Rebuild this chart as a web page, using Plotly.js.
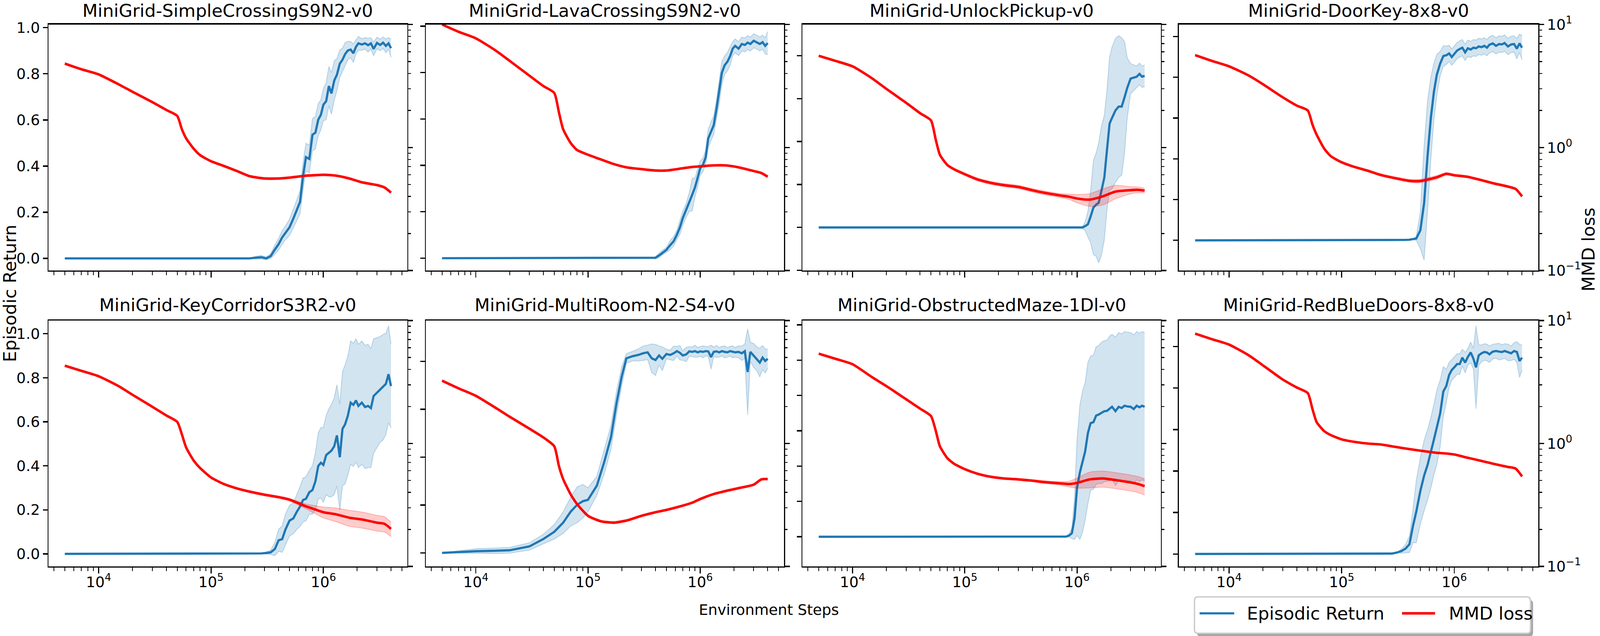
<!DOCTYPE html>
<html><head><meta charset="utf-8">
<script src="https://cdn.plot.ly/plotly-3.0.1.min.js"></script>
<style>html,body{margin:0;padding:0;background:#fff;overflow:hidden;}</style>
</head><body><div id="chart"></div>
<script>
// ---------------- DATA ----------------
const titles = ["MiniGrid-SimpleCrossingS9N2-v0","MiniGrid-LavaCrossingS9N2-v0","MiniGrid-UnlockPickup-v0","MiniGrid-DoorKey-8x8-v0",
                "MiniGrid-KeyCorridorS3R2-v0","MiniGrid-MultiRoom-N2-S4-v0","MiniGrid-ObstructedMaze-1Dl-v0","MiniGrid-RedBlueDoors-8x8-v0"];

const steps = [5000,7000,10000,15000,20000,30000,40000,50000,60000,70000,80000,90000,100000,120000,140000,160000,180000,200000,220000,250000,
  280000,310000,340000,370000,400000,430000,460000,500000,540000,580000,620000,660000,700000,750000,800000,850000,900000,950000,1000000,1060000,
  1120000,1180000,1250000,1320000,1400000,1480000,1560000,1650000,1750000,1850000,1950000,2050000,2200000,2350000,2500000,2650000,2800000,3000000,3200000,3400000,
  3600000,3800000,4000000];

const lossSteps = [5000,7000,10000,15000,20000,30000,40000,50000,55000,60000,70000,80000,100000,130000,170000,220000,300000,400000,500000,700000,
  850000,1000000,1300000,1700000,2200000,3000000,3500000,4000000];

// Episodic return (mean and std) per environment, sampled at `steps`
const return1 = [0,0,0,0,0,0,0,0,0,0, 0,0,0,0,0,0,0,0,0,0.003,
  0.005,0.0,0.01,0.038,0.062,0.091,0.111,0.135,0.172,0.208,
  0.245,0.358,0.439,0.431,0.536,0.545,0.601,0.622,0.666,0.682,
  0.747,0.715,0.771,0.796,0.844,0.861,0.885,0.901,0.905,0.889,
  0.917,0.932,0.927,0.932,0.924,0.932,0.908,0.934,0.925,0.935,
  0.921,0.932,0.911];
const returnStd1 = [0,0,0,0,0,0,0,0,0,0, 0,0,0,0,0,0,0,0,0,0.006,
  0.008,0.006,0.01,0.02,0.025,0.03,0.03,0.035,0.04,0.045,
  0.05,0.06,0.06,0.06,0.07,0.07,0.07,0.065,0.07,0.08,
  0.085,0.09,0.085,0.07,0.06,0.05,0.05,0.04,0.035,0.04,
  0.03,0.03,0.025,0.025,0.03,0.025,0.03,0.025,0.025,0.025,
  0.03,0.025,0.04];

const return2 = [0,0,0,0,0,0,0,0,0,0, 0,0,0,0,0,0,0,0,0,0,
  0,0,0,0,0.002,0.012,0.024,0.036,0.056,0.073,
  0.101,0.133,0.173,0.206,0.242,0.274,0.306,0.347,0.387,0.403,
  0.435,0.516,0.548,0.573,0.645,0.718,0.798,0.831,0.847,0.871,
  0.903,0.915,0.903,0.923,0.919,0.929,0.923,0.937,0.931,0.923,
  0.931,0.915,0.927];
const returnStd2 = [0,0,0,0,0,0,0,0,0,0, 0,0,0,0,0,0,0,0,0,0,
  0,0,0,0,0.005,0.01,0.01,0.01,0.02,0.02,
  0.02,0.03,0.03,0.03,0.04,0.07,0.04,0.04,0.03,0.03,
  0.03,0.04,0.04,0.04,0.04,0.05,0.05,0.04,0.04,0.04,
  0.03,0.03,0.03,0.03,0.03,0.03,0.03,0.03,0.03,0.03,
  0.03,0.035,0.05];

const return3 = [0,0,0,0,0,0,0,0,0,0, 0,0,0,0,0,0,0,0,0,0,
  0,0,0,0,0,0,0,0,0,0, 0,0,0,0,0,0,0,0,0,0,
  0,0.006,0.015,0.05,0.093,0.106,0.115,0.171,0.232,0.363,
  0.484,0.51,0.545,0.563,0.563,0.606,0.65,0.693,0.697,0.702,
  0.715,0.702,0.706];
const returnStd3 = [0,0,0,0,0,0,0,0,0,0, 0,0,0,0,0,0,0,0,0,0,
  0,0,0,0,0,0,0,0,0,0, 0,0,0,0,0,0,0,0,0,0,
  0.005,0.02,0.06,0.12,0.22,0.24,0.28,0.3,0.29,0.28,
  0.31,0.33,0.335,0.33,0.32,0.26,0.14,0.07,0.06,0.05,
  0.05,0.05,0.05];

const return4 = [0,0,0,0,0,0,0,0,0,0, 0,0,0,0,0,0,0,0,0,0,
  0,0,0,0.002,0.003,0.005,0.009,0.049,0.183,0.417,
  0.601,0.729,0.812,0.867,0.904,0.908,0.917,0.899,0.913,0.931,
  0.939,0.945,0.922,0.942,0.936,0.945,0.942,0.951,0.948,0.954,
  0.945,0.959,0.966,0.954,0.963,0.961,0.968,0.951,0.961,0.963,
  0.940,0.966,0.945];
const returnStd4 = [0,0,0,0,0,0,0,0,0,0, 0,0,0,0,0,0,0,0,0,0,
  0,0,0,0,0,0,0.01,0.09,0.28,0.27,
  0.2,0.14,0.1,0.06,0.05,0.045,0.04,0.04,0.04,0.04,
  0.04,0.04,0.04,0.04,0.04,0.04,0.04,0.04,0.04,0.04,
  0.04,0.04,0.04,0.04,0.04,0.04,0.04,0.04,0.04,0.04,
  0.05,0.045,0.06];

const return5 = [0,0,0,0,0,0,0,0,0,0, 0,0,0,0,0,0,0,0,0,0,
  0.002,0.004,0.007,0.022,0.062,0.067,0.111,0.151,0.161,0.191,
  0.215,0.245,0.250,0.280,0.290,0.330,0.399,0.414,0.404,0.449,
  0.459,0.469,0.489,0.538,0.439,0.568,0.588,0.627,0.687,0.677,
  0.697,0.672,0.687,0.667,0.672,0.662,0.717,0.732,0.747,0.757,
  0.772,0.816,0.762];
const returnStd5 = [0,0,0,0,0,0,0,0,0,0, 0,0,0,0,0,0,0,0,0,0,
  0,0.005,0.01,0.03,0.05,0.06,0.07,0.07,0.07,0.08,
  0.09,0.1,0.1,0.1,0.11,0.13,0.15,0.16,0.17,0.18,
  0.2,0.21,0.22,0.23,0.24,0.26,0.27,0.27,0.28,0.28,
  0.28,0.28,0.28,0.28,0.28,0.27,0.26,0.25,0.24,0.24,
  0.23,0.22,0.19];

const return6 = [0,0.004,0.007,0.009,0.011,0.027,0.058,0.088,0.126,0.172,
  0.201,0.216,0.222,0.281,0.382,0.482,0.628,0.738,0.813,0.822,
  0.827,0.834,0.838,0.813,0.806,0.825,0.811,0.831,0.827,0.834,
  0.843,0.836,0.825,0.829,0.842,0.840,0.843,0.838,0.842,0.840,
  0.843,0.842,0.818,0.840,0.842,0.838,0.843,0.840,0.838,0.843,
  0.840,0.838,0.840,0.834,0.843,0.756,0.840,0.825,0.811,0.795,
  0.816,0.802,0.811];
const returnStd6 = [0,0.005,0.01,0.012,0.012,0.015,0.02,0.03,0.045,0.06,
  0.075,0.07,0.05,0.04,0.05,0.05,0.05,0.04,0.02,0.02,
  0.025,0.03,0.03,0.06,0.065,0.04,0.05,0.02,0.02,0.03,
  0.02,0.03,0.02,0.03,0.02,0.02,0.025,0.02,0.02,0.025,
  0.02,0.02,0.05,0.02,0.025,0.02,0.02,0.025,0.02,0.02,
  0.025,0.02,0.025,0.03,0.03,0.18,0.04,0.05,0.05,0.06,
  0.05,0.05,0.04];

const return7 = [0,0,0,0,0,0,0,0,0,0, 0,0,0,0,0,0,0,0,0,0,
  0,0,0,0,0,0,0,0,0,0, 0,0,0,0,0.001,0.007,0.02,0.104,0.277,0.364,
  0.426,0.482,0.587,0.643,0.649,0.686,0.692,0.701,0.711,0.713,
  0.726,0.736,0.711,0.736,0.729,0.742,0.738,0.736,0.723,0.742,
  0.733,0.742,0.736];
const returnStd7 = [0,0,0,0,0,0,0,0,0,0, 0,0,0,0,0,0,0,0,0,0,
  0,0,0,0,0,0,0,0,0,0, 0,0,0,0,0,0.01,0.03,0.12,0.27,0.38,
  0.4,0.39,0.4,0.38,0.38,0.39,0.39,0.4,0.4,0.4,
  0.41,0.41,0.42,0.42,0.42,0.42,0.42,0.42,0.42,0.42,
  0.42,0.42,0.42];

const return8 = [0,0,0,0,0,0,0,0,0,0, 0,0,0,0,0,0,0,0,0,0,
  0.002,0.007,0.014,0.026,0.047,0.135,0.204,0.304,0.378,0.430,
  0.488,0.552,0.610,0.678,0.784,0.810,0.863,0.887,0.90,0.916,
  0.916,0.947,0.923,0.950,0.972,0.942,0.90,0.958,0.968,0.974,
  0.972,0.963,0.976,0.979,0.976,0.974,0.979,0.972,0.968,0.979,
  0.974,0.931,0.947];
const returnStd8 = [0,0,0,0,0,0,0,0,0,0, 0,0,0,0,0,0,0,0,0,0,
  0,0,0.01,0.02,0.04,0.08,0.15,0.16,0.17,0.17,
  0.17,0.17,0.18,0.16,0.12,0.08,0.06,0.05,0.05,0.05,
  0.05,0.04,0.05,0.04,0.05,0.05,0.2,0.05,0.04,0.04,
  0.04,0.04,0.035,0.035,0.04,0.035,0.035,0.04,0.035,0.04,
  0.05,0.08,0.06];

// MMD loss (mean and std) per environment, sampled at `lossSteps`
const loss1 = [4.81,4.33,3.93,3.27,2.84,2.34,2.02,1.81,1.41,1.19,0.98,0.867,0.774,0.708,0.644,0.585,0.560,0.560,0.569,0.590,0.596,0.600,0.590,0.560,0.521,0.495,0.473,0.430];
const lossStd1 = [0.09,0.08,0.07,0.06,0.05,0.04,0.035,0.03,0.025,0.02,0.017,0.015,0.014,0.013,0.012,0.011,0.011,0.011,0.011,0.011,0.011,0.011,0.011,0.01,0.01,0.009,0.009,0.009];
const loss2 = [10.0,8.73,7.72,6.15,5.07,3.84,3.16,2.78,1.94,1.41,1.09,0.953,0.873,0.80,0.733,0.69,0.667,0.65,0.65,0.678,0.695,0.703,0.715,0.715,0.69,0.644,0.621,0.579];
const lossStd2 = [0.15,0.13,0.11,0.09,0.07,0.05,0.045,0.04,0.03,0.02,0.016,0.014,0.013,0.012,0.011,0.011,0.01,0.01,0.01,0.012,0.012,0.012,0.012,0.012,0.011,0.01,0.01,0.01];
const loss3 = [5.57,5.07,4.57,3.64,3.00,2.31,1.90,1.66,1.17,0.873,0.72,0.667,0.607,0.55,0.516,0.495,0.478,0.449,0.430,0.408,0.398,0.385,0.377,0.401,0.438,0.450,0.453,0.446];
const lossStd3 = [0.1,0.09,0.08,0.06,0.05,0.04,0.035,0.03,0.025,0.02,0.016,0.015,0.015,0.015,0.015,0.015,0.015,0.015,0.015,0.015,0.02,0.03,0.045,0.06,0.055,0.03,0.025,0.02];
const loss4 = [5.64,5.07,4.57,3.84,3.27,2.56,2.19,2.0,1.54,1.27,0.98,0.851,0.758,0.695,0.648,0.600,0.563,0.536,0.534,0.573,0.611,0.595,0.579,0.546,0.513,0.481,0.461,0.401];
const lossStd4 = [0.1,0.09,0.08,0.06,0.05,0.04,0.035,0.03,0.025,0.02,0.016,0.015,0.013,0.012,0.012,0.012,0.012,0.015,0.018,0.02,0.015,0.012,0.011,0.011,0.01,0.01,0.01,0.01];
const loss5 = [4.29,3.90,3.52,2.93,2.49,1.99,1.69,1.50,1.19,0.931,0.728,0.631,0.529,0.468,0.431,0.406,0.383,0.366,0.349,0.308,0.290,0.276,0.265,0.249,0.241,0.227,0.222,0.202];
const lossStd5 = [0.08,0.07,0.06,0.05,0.04,0.03,0.025,0.022,0.018,0.014,0.012,0.011,0.009,0.008,0.008,0.008,0.008,0.008,0.009,0.014,0.022,0.028,0.034,0.037,0.036,0.033,0.032,0.027];
const loss6 = [3.24,2.81,2.44,1.95,1.65,1.32,1.12,0.95,0.658,0.514,0.386,0.321,0.258,0.233,0.227,0.236,0.258,0.276,0.288,0.312,0.330,0.353,0.386,0.411,0.433,0.462,0.51,0.514];
const lossStd6 = [0.06,0.05,0.045,0.035,0.03,0.025,0.02,0.018,0.012,0.009,0.007,0.006,0.005,0.005,0.005,0.005,0.005,0.005,0.006,0.006,0.006,0.007,0.007,0.008,0.008,0.008,0.009,0.009];
const loss7 = [5.37,4.89,4.41,3.45,2.93,2.29,1.92,1.67,1.28,0.95,0.759,0.685,0.618,0.567,0.536,0.52,0.51,0.498,0.486,0.474,0.468,0.478,0.51,0.519,0.504,0.482,0.468,0.449];
const lossStd7 = [0.09,0.08,0.07,0.055,0.045,0.035,0.03,0.025,0.02,0.016,0.013,0.012,0.011,0.01,0.01,0.01,0.01,0.01,0.012,0.015,0.025,0.045,0.075,0.078,0.075,0.072,0.07,0.068];
const loss8 = [7.82,7.06,6.37,5.20,4.32,3.31,2.85,2.57,1.91,1.49,1.26,1.17,1.08,1.03,0.998,0.982,0.938,0.90,0.874,0.839,0.829,0.813,0.767,0.725,0.685,0.644,0.626,0.54];
const lossStd8 = [0.12,0.11,0.1,0.08,0.065,0.05,0.043,0.038,0.03,0.022,0.019,0.017,0.016,0.015,0.015,0.014,0.014,0.013,0.013,0.013,0.013,0.012,0.012,0.011,0.01,0.01,0.01,0.01];

// tick values / labels
const stepTicks = [1e4, 1e5, 1e6];
const stepTickLabels = ["10<sup>4</sup>","10<sup>5</sup>","10<sup>6</sup>"];
const stepMinorTicks = [4000,5000,6000,7000,8000,9000,20000,30000,40000,50000,60000,70000,80000,90000,
  200000,300000,400000,500000,600000,700000,800000,900000,2000000,3000000,4000000,5000000,6000000,7000000,8000000,9000000];
const returnTicks = [-0.2,0,0.2,0.4,0.6,0.8,1.0,1.2];
const returnTickLabels = ["\u22120.2","0.0","0.2","0.4","0.6","0.8","1.0","1.2"];
const lossTicks = [0.1, 1, 10];
const lossTickLabels = ["10<sup>\u22121</sup>","10<sup>0</sup>","10<sup>1</sup>"];
const lossMinorTicks = [0.2,0.3,0.4,0.5,0.6,0.7,0.8,0.9,2,3,4,5,6,7,8,9];
const legendLabels = ["Episodic Return","MMD loss"];

const returns = [return1,return2,return3,return4,return5,return6,return7,return8];
const returnStds = [returnStd1,returnStd2,returnStd3,returnStd4,returnStd5,returnStd6,returnStd7,returnStd8];
const losses = [loss1,loss2,loss3,loss4,loss5,loss6,loss7,loss8];
const lossStds = [lossStd1,lossStd2,lossStd3,lossStd4,lossStd5,lossStd6,lossStd7,lossStd8];

[returns,returnStds].forEach(g=>g.forEach((a,i)=>{ if(a.length!==steps.length) throw new Error('return array '+i+' length '+a.length); }));
[losses,lossStds].forEach(g=>g.forEach((a,i)=>{ if(a.length!==lossSteps.length) throw new Error('loss array '+i+' length '+a.length); }));

// ---------------- LAYOUT ----------------
const W = 4995, H = 1627;
// the design is in 4995x1627 design pixels; fill the actual viewport
const VW = window.innerWidth || W, VH = window.innerHeight || H;
const SX = VW / W, SY = VH / H, SK = Math.sqrt(SX * SY);
const zx = v => v * SX, zy = v => v * SY, zk = v => v * SK;
const chartDiv = document.getElementById("chart");
chartDiv.style.width = VW + "px";
chartDiv.style.height = VH + "px";

const FONT = "DejaVu Sans";
const BLUE = "#1f77b4", RED = "#ff0000";
const colPx = [[151.7,1271.4],[1329.5,2447.3],[2505.4,3624.0],[3680.4,4802.4]];
const rowPx = [[62.7,692.0],[819.9,1449.0]];
const returnRanges = [[-0.0525,1.0137],[-0.053,1.007],[-0.2005,0.945],[-0.148,1.0587],
                      [-0.057,1.06],[-0.0565,0.971],[-0.168,1.2245],[-0.06,1.126]];
const xRange = [3.5547, 6.7466];
const px2x = p => p / W, px2y = p => 1 - p / H;

const tickFont = {family: FONT, size: zk(41.7), color: "#000"};

const data = [];
const layout = {
  width: VW, height: VH, margin: {l:0, r:0, t:0, b:0, pad:0},
  paper_bgcolor: "#fff", plot_bgcolor: "rgba(0,0,0,0)", showlegend: false,
  font: {family: FONT, color: "#000"}, annotations: [], shapes: []
};

for (let i = 0; i < 8; i++) {
  const r = Math.floor(i / 4), c = i % 4;
  const xn = "x" + (i + 1), yr = "y" + (2 * i + 1), yl = "y" + (2 * i + 2);
  const xk = i === 0 ? "xaxis" : "xaxis" + (i + 1);
  const yrk = (2 * i + 1) === 1 ? "yaxis" : "yaxis" + (2 * i + 1);
  const ylk = "yaxis" + (2 * i + 2);

  layout[xk] = {
    type: "log", range: xRange, domain: [px2x(colPx[c][0]), px2x(colPx[c][1])], anchor: yr,
    showline: true, linecolor: "#000", linewidth: zy(3.3), mirror: true,
    ticks: "outside", ticklen: zy(14.6), tickwidth: zx(3.3), tickcolor: "#000",
    tickmode: "array", tickvals: stepTicks, ticktext: stepTickLabels, showticklabels: r === 1,
    ticklabelstandoff: Math.round(zy(-10)),
    tickfont: tickFont, showgrid: false, zeroline: false,
    minor: {tickmode: "array", tickvals: stepMinorTicks, ticks: "outside", ticklen: zy(8.3), tickwidth: zx(2.5), tickcolor: "#000", showgrid: false}
  };
  layout[yrk] = {
    range: returnRanges[i], domain: [px2y(rowPx[r][1]), px2y(rowPx[r][0])], anchor: xn,
    showline: true, linecolor: "#000", linewidth: zx(3.3), mirror: true,
    ticks: "outside", ticklen: zx(14.6), tickwidth: zy(3.3), tickcolor: "#000",
    tickmode: "array", tickvals: returnTicks, ticktext: returnTickLabels, showticklabels: c === 0,
    tickfont: tickFont, showgrid: false, zeroline: false
  };
  layout[ylk] = {
    type: "log", range: [-1, 1], overlaying: yr, side: "right", anchor: xn,
    showline: true, linecolor: "#000", linewidth: zx(3.3),
    ticks: "outside", ticklen: zx(14.6), tickwidth: zy(3.3), tickcolor: "#000",
    tickmode: "array", tickvals: lossTicks, ticktext: lossTickLabels, showticklabels: c === 3,
    tickfont: tickFont, showgrid: false, zeroline: false,
    minor: {tickmode: "array", tickvals: lossMinorTicks, ticks: "outside", ticklen: zx(8.3), tickwidth: zy(2.5), tickcolor: "#000", showgrid: false}
  };

  const m = returns[i], s = returnStds[i];
  data.push({x: steps, y: m.map((v, k) => v - s[k]), xaxis: xn, yaxis: yr, mode: "lines",
    line: {color: "rgba(31,119,180,0.25)", width: zk(2.5)}, hoverinfo: "skip"});
  data.push({x: steps, y: m.map((v, k) => v + s[k]), xaxis: xn, yaxis: yr, mode: "lines", fill: "tonexty",
    fillcolor: "rgba(31,119,180,0.2)", line: {color: "rgba(31,119,180,0.25)", width: zk(2.5)}, hoverinfo: "skip"});
  data.push({x: steps, y: m, xaxis: xn, yaxis: yr, mode: "lines", line: {color: BLUE, width: zk(6.25)}, name: legendLabels[0]});

  const lm = losses[i], ls = lossStds[i];
  data.push({x: lossSteps, y: lm.map((v, k) => v - ls[k]), xaxis: xn, yaxis: yl, mode: "lines",
    line: {color: "rgba(255,0,0,0.22)", width: zk(2.5), shape: "spline", smoothing: 0.6}, hoverinfo: "skip"});
  data.push({x: lossSteps, y: lm.map((v, k) => v + ls[k]), xaxis: xn, yaxis: yl, mode: "lines", fill: "tonexty",
    fillcolor: "rgba(255,0,0,0.2)", line: {color: "rgba(255,0,0,0.22)", width: zk(2.5), shape: "spline", smoothing: 0.6}, hoverinfo: "skip"});
  data.push({x: lossSteps, y: lm, xaxis: xn, yaxis: yl, mode: "lines",
    line: {color: RED, width: zk(7), shape: "spline", smoothing: 0.6}, name: legendLabels[1]});

  layout.annotations.push({
    text: titles[i], xref: "paper", yref: "paper",
    x: px2x((colPx[c][0] + colPx[c][1]) / 2), y: px2y(r === 0 ? 27 : 780),
    xanchor: "center", yanchor: "middle", showarrow: false, font: {family: FONT, size: zk(50), color: "#000"}
  });
}

// axis labels
layout.annotations.push({text: "Environment Steps", xref: "paper", yref: "paper", x: px2x(2400), y: px2y(1560),
  xanchor: "center", yanchor: "middle", showarrow: false, font: {family: FONT, size: zk(41.7), color: "#000"}});
layout.annotations.push({text: "Episodic Return", xref: "paper", yref: "paper", x: px2x(31), y: px2y(750), textangle: -90,
  xanchor: "center", yanchor: "middle", showarrow: false, font: {family: FONT, size: zk(50), color: "#000"}});
layout.annotations.push({text: "MMD loss", xref: "paper", yref: "paper", x: px2x(4958), y: px2y(638), textangle: -90,
  xanchor: "center", yanchor: "middle", showarrow: false, font: {family: FONT, size: zk(50), color: "#000"}});

// legend (matplotlib-style framed legend with shadow)
function roundRect(x0, y0, x1, y1, rad) {
  const X = px2x, Y = px2y;
  return `M${X(x0 + rad)},${Y(y0)} L${X(x1 - rad)},${Y(y0)} Q${X(x1)},${Y(y0)} ${X(x1)},${Y(y0 + rad)} ` +
         `L${X(x1)},${Y(y1 - rad)} Q${X(x1)},${Y(y1)} ${X(x1 - rad)},${Y(y1)} L${X(x0 + rad)},${Y(y1)} ` +
         `Q${X(x0)},${Y(y1)} ${X(x0)},${Y(y1 - rad)} L${X(x0)},${Y(y0 + rad)} Q${X(x0)},${Y(y0)} ${X(x0 + rad)},${Y(y0)} Z`;
}
const lg = {x0: 3729, y0: 1527, x1: 4778, y1: 1620};
layout.shapes.push({type: "path", xref: "paper", yref: "paper", path: roundRect(lg.x0 + 8, lg.y0 + 8, lg.x1 + 8, lg.y1 + 8, 10),
  fillcolor: "rgba(77,77,77,0.5)", line: {width: 0}, layer: "above"});
layout.shapes.push({type: "path", xref: "paper", yref: "paper", path: roundRect(lg.x0, lg.y0, lg.x1, lg.y1, 10),
  fillcolor: "#ffffff", line: {color: "#cccccc", width: zk(4)}, layer: "above"});
layout.shapes.push({type: "line", xref: "paper", yref: "paper", x0: px2x(3745), x1: px2x(3853), y0: px2y(1569), y1: px2y(1569),
  line: {color: BLUE, width: zk(6.25)}, layer: "above"});
layout.shapes.push({type: "line", xref: "paper", yref: "paper", x0: px2x(4377), x1: px2x(4480), y0: px2y(1569), y1: px2y(1569),
  line: {color: RED, width: zk(7)}, layer: "above"});
layout.annotations.push({text: legendLabels[0], xref: "paper", yref: "paper", x: px2x(3890), y: px2y(1569),
  xanchor: "left", yanchor: "middle", showarrow: false, font: {family: FONT, size: zk(50), color: "#000"}});
layout.annotations.push({text: legendLabels[1], xref: "paper", yref: "paper", x: px2x(4521), y: px2y(1569),
  xanchor: "left", yanchor: "middle", showarrow: false, font: {family: FONT, size: zk(50), color: "#000"}});

Plotly.newPlot("chart", data, layout, {displayModeBar: false, staticPlot: true});
</script>
</body></html>
